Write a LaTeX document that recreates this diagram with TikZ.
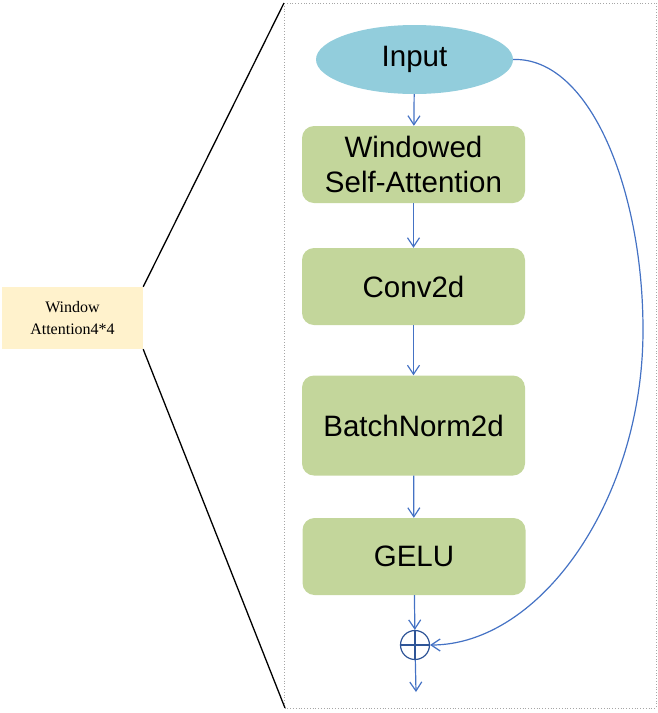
\documentclass[tikz,border=0pt]{standalone}
\usepackage{fontspec}
\setmainfont{Liberation Sans}
\newfontfamily\timesfont{Liberation Serif}
\usetikzlibrary{shapes.geometric,arrows.meta}

\definecolor{inblue}{HTML}{92CDDC}
\definecolor{layergreen}{HTML}{C3D69B}
\definecolor{wincream}{HTML}{FFF2CC}
\definecolor{flowblue}{HTML}{4472C4}
\definecolor{sumblue}{HTML}{2F5597}

\tikzset{
  layer/.style={rectangle, rounded corners=12pt, fill=layergreen, minimum width=223pt, align=center, inner sep=0pt},
  flow/.style={draw=flowblue, line width=1.2pt, -{Straight Barb[length=9pt,width=12pt]}}
}

\begin{document}
\begin{tikzpicture}[x=1pt, y=-1pt, font=\fontsize{29.5}{35}\selectfont]
		\useasboundingbox (0,0) rectangle (658,713);
		% frame of the zoomed block
		\coordinate (fNW) at (284,3);
		\coordinate (fSE) at (656,708);
		\coordinate (fSW) at (285,708);
		\draw[gray!70, dotted, line width=0.8pt] (fNW) rectangle (fSE);
		% block on the left
		\node[fill=wincream, minimum width=141pt, minimum height=62pt, align=center, font=\timesfont\fontsize{16}{22}\selectfont] (win) at (72.5,318) {Window\\Attention4*4};
		\draw[line width=1.3pt] (win.north east) -- (fNW);
		\draw[line width=1.3pt] (win.south east) -- (fSW);
		% layers
		\node[ellipse, fill=inblue, minimum width=197pt, minimum height=69pt] (input) at (414.5,59.5) {Input};
		\node[layer, minimum height=77pt] (wsa) at (413.5,164.5) {Windowed\\Self-Attention};
		\node[layer, minimum height=77pt] (conv) at (413.5,286.5) {Conv2d};
		\node[layer, minimum height=100pt] (bn) at (413.5,425.5) {BatchNorm2d};
		\node[layer, minimum height=77pt] (gelu) at (414,556.5) {GELU};
		\node[circle, draw=sumblue, line width=1.2pt, minimum size=29pt, inner sep=0pt,
		  path picture={\draw[sumblue, line width=1.2pt] (path picture bounding box.north) -- (path picture bounding box.south)
		    (path picture bounding box.west) -- (path picture bounding box.east);}] (sum) at (415,645) {};
		\coordinate (out) at (416,692);
		% arrows
		\draw[flow] (input) -- (wsa);
		\draw[flow] (wsa) -- (conv);
		\draw[flow] (conv) -- (bn);
		\draw[flow] (bn) -- (gelu);
		\draw[flow] (gelu) -- (sum);
		\draw[flow] (sum) -- (out);
		% residual connection
		\draw[flow] (input.east) .. controls (590,57) and (643,190) .. (643,330)
		  .. controls (643,500) and (540,645) .. (sum.east);
\end{tikzpicture}
\end{document}
